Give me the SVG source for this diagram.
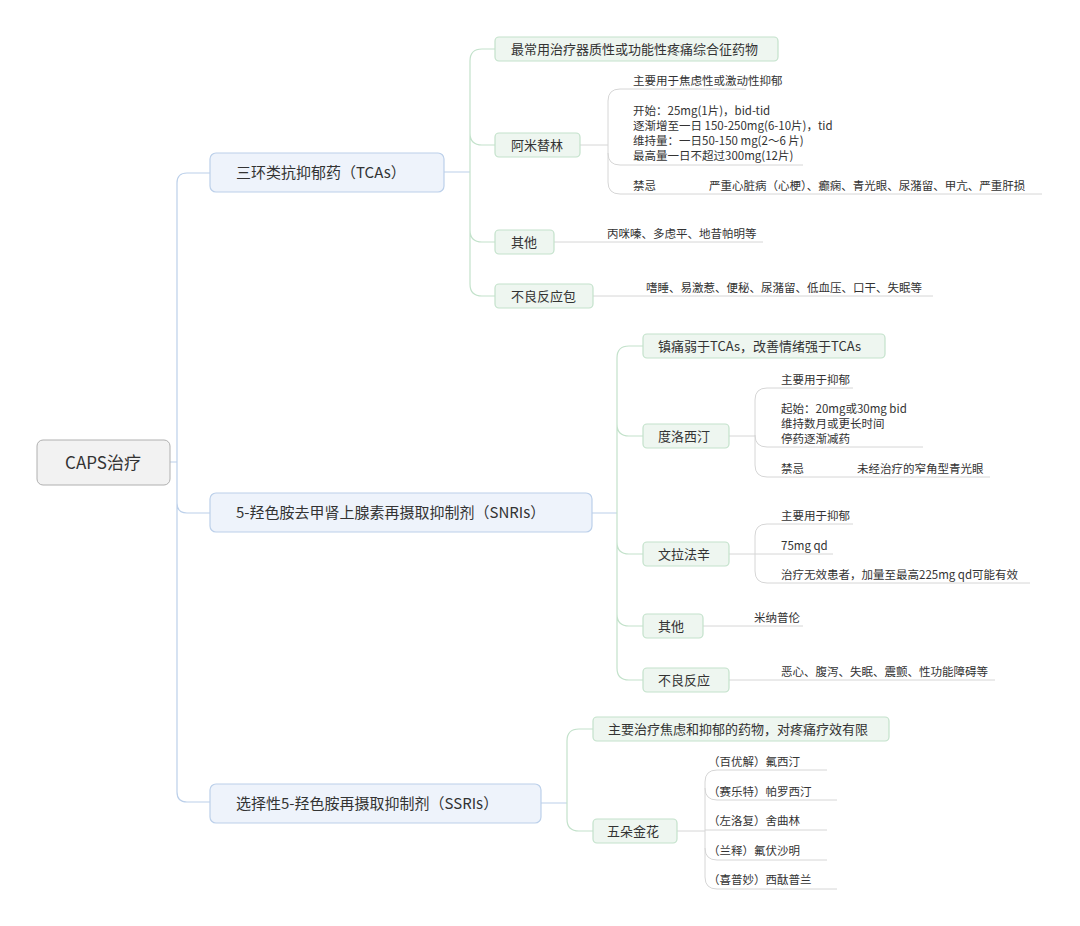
<svg xmlns="http://www.w3.org/2000/svg" width="1080" height="926" viewBox="0 0 1080 926">
<style>
text{font-family:"Noto Sans CJK SC","Noto Sans",sans-serif;fill:#333}
.root{fill:#f2f2f2;stroke:#b0b0b0;stroke-width:1}
.l1{fill:#eef3fb;stroke:#bcd0ea;stroke-width:1.2}
.l2{fill:#eef6f0;stroke:#c3e2cb;stroke-width:1.2}
.cb{fill:none;stroke:#bcd0ea;stroke-width:1.2}
.cg{fill:none;stroke:#c3e2cb;stroke-width:1.2}
.cl{fill:none;stroke:#d6d6d6;stroke-width:1}
.t1{font-size:15px}
.t2{font-size:13px}
.t3{font-size:11.5px}
</style>
<rect width="1080" height="926" fill="#fff"/>
<g id="connectors">
<path class="cb" d="M170,462 H177 M187,173 Q177,173 177,183 V792 Q177,802 187,802 H210 M187,173 H210 M177,503 Q177,513 187,513 H210"/>
<path class="cb" d="M444,172 H470 M592,513 H617 M541,803 H567"/>
<path class="cg" d="M495,49 H482 Q470,49 470,61 V284 Q470,296 482,296 H495 M470,133 Q470,145 482,145 H495 M470,230 Q470,242 482,242 H495"/>
<path class="cg" d="M643,346 H629 Q617,346 617,358 V668 Q617,680 629,680 H643 M617,424 Q617,436 629,436 H643 M617,542 Q617,554 629,554 H643 M617,614 Q617,626 629,626 H643"/>
<path class="cg" d="M593,729 H579 Q567,729 567,741 V819 Q567,831 579,831 H593"/>
<path class="cl" d="M580,145 H608 M620,89 Q608,89 608,101 V182 Q608,194 620,194 H1042 M620,89 H746 M608,153 Q608,165 620,165 H803"/>
<path class="cl" d="M554,242 H763 M593,296 H933"/>
<path class="cl" d="M729,436 H755 M767,388 Q755,388 755,400 V465 Q755,477 767,477 H990 M767,388 H853 M755,435 Q755,447 767,447 H923"/>
<path class="cl" d="M729,554 H833 M767,524 Q755,524 755,536 V571 Q755,583 767,583 H1030 M767,524 H853"/>
<path class="cl" d="M703,626 H803 M729,680 H995"/>
<path class="cl" d="M677,831 H705 M717,770 Q705,770 705,782 V877 Q705,889 717,889 H837 M717,770 H827 M705,788 Q705,800 717,800 H837 M705,830 H827 M705,848 Q705,860 717,860 H827"/>
</g>
<g id="root"><rect class="root" x="37" y="440" width="133" height="45" rx="6"/><text x="103" y="469" font-size="17" text-anchor="middle">CAPS治疗</text></g>
<g id="tca"><rect class="l1" x="210" y="153" width="234" height="39" rx="6"/><text class="t1" x="236" y="178">三环类抗抑郁药（TCAs）</text></g>
<g id="snri"><rect class="l1" x="210" y="493" width="382" height="39" rx="6"/><text class="t1" x="236" y="518">5-羟色胺去甲肾上腺素再摄取抑制剂（SNRIs）</text></g>
<g id="ssri"><rect class="l1" x="210" y="784" width="331" height="39" rx="6"/><text class="t1" x="236" y="809">选择性5-羟色胺再摄取抑制剂（SSRIs）</text></g>
<g id="tca1"><rect class="l2" x="495" y="37" width="283" height="24" rx="4"/><text class="t2" x="511" y="54">最常用治疗器质性或功能性疼痛综合征药物</text></g>
<g id="tca2"><rect class="l2" x="495" y="133" width="85" height="24" rx="4"/><text class="t2" x="511" y="150">阿米替林</text></g>
<g id="tca3"><rect class="l2" x="495" y="230" width="59" height="24" rx="4"/><text class="t2" x="511" y="247">其他</text></g>
<g id="tca4"><rect class="l2" x="495" y="284" width="98" height="24" rx="4"/><text class="t2" x="511" y="301">不良反应包</text></g>
<g id="tca-leaves" class="t3">
<text class="t3" x="633" y="85">主要用于焦虑性或激动性抑郁</text>
<text class="t3" x="633" y="115">开始：25mg(1片)，bid-tid</text>
<text class="t3" x="633" y="130">逐渐增至一日 150-250mg(6-10片)，tid</text>
<text class="t3" x="633" y="145">维持量：一日50-150 mg(2～6 片)</text>
<text class="t3" x="633" y="160">最高量一日不超过300mg(12片)</text>
<text class="t3" x="633" y="190">禁忌</text>
<text class="t3" x="709" y="190">严重心脏病（心梗）、癫痫、青光眼、尿潴留、甲亢、严重肝损</text>
<text class="t3" x="607" y="238">丙咪嗪、多虑平、地昔帕明等</text>
<text class="t3" x="646" y="292">嗜睡、易激惹、便秘、尿潴留、低血压、口干、失眠等</text>
</g>
<g id="snri1"><rect class="l2" x="643" y="334" width="242" height="24" rx="4"/><text class="t2" x="658" y="351">镇痛弱于TCAs，改善情绪强于TCAs</text></g>
<g id="snri2"><rect class="l2" x="643" y="424" width="86" height="24" rx="4"/><text class="t2" x="658" y="441">度洛西汀</text></g>
<g id="snri3"><rect class="l2" x="643" y="542" width="86" height="24" rx="4"/><text class="t2" x="658" y="559">文拉法辛</text></g>
<g id="snri4"><rect class="l2" x="643" y="614" width="60" height="24" rx="4"/><text class="t2" x="658" y="631">其他</text></g>
<g id="snri5"><rect class="l2" x="643" y="668" width="86" height="24" rx="4"/><text class="t2" x="658" y="685">不良反应</text></g>
<g id="snri-leaves">
<text class="t3" x="781" y="384">主要用于抑郁</text>
<text class="t3" x="781" y="413">起始：20mg或30mg bid</text>
<text class="t3" x="781" y="428">维持数月或更长时间</text>
<text class="t3" x="781" y="443">停药逐渐减药</text>
<text class="t3" x="781" y="473">禁忌</text>
<text class="t3" x="857" y="473">未经治疗的窄角型青光眼</text>
<text class="t3" x="781" y="520">主要用于抑郁</text>
<text class="t3" x="781" y="550">75mg qd</text>
<text class="t3" x="781" y="579">治疗无效患者，加量至最高225mg qd可能有效</text>
<text class="t3" x="754" y="622">米纳普伦</text>
<text class="t3" x="781" y="676">恶心、腹泻、失眠、震颤、性功能障碍等</text>
</g>
<g id="ssri1"><rect class="l2" x="593" y="717" width="296" height="24" rx="4"/><text class="t2" x="608" y="734">主要治疗焦虑和抑郁的药物，对疼痛疗效有限</text></g>
<g id="ssri2"><rect class="l2" x="593" y="819" width="84" height="24" rx="4"/><text class="t2" x="607" y="836">五朵金花</text></g>
<g id="ssri-leaves">
<text class="t3" x="708" y="766">（百优解）氟西汀</text>
<text class="t3" x="708" y="796">（赛乐特）帕罗西汀</text>
<text class="t3" x="708" y="825">（左洛复）舍曲林</text>
<text class="t3" x="708" y="855">（兰释）氟伏沙明</text>
<text class="t3" x="708" y="884">（喜普妙）西酞普兰</text>
</g>
</svg>
